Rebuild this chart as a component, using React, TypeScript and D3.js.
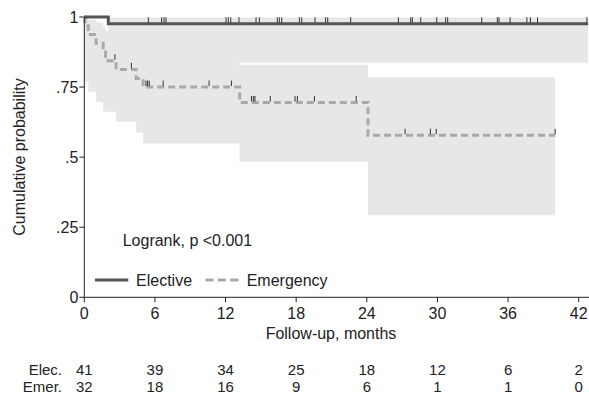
import React, { useEffect, useRef } from 'react';
import * as d3 from 'd3';

// axis ticks and risk table
const months = [0, 6, 12, 18, 24, 30, 36, 42];
const yTicks = [0, 0.25, 0.5, 0.75, 1];
const yTickLabels = ['0', '.25', '.5', '.75', '1'];
const elecRisk = [41, 39, 34, 25, 18, 12, 6, 2];
const emerRisk = [32, 18, 16, 9, 6, 1, 1, 0];

// Elective KM curve
const elecTime = [0, 2.04, 42.8];
const elecSurv = [1, 0.976, 0.976];
const elecLo = [1, 0.837, 0.837];
const elecHi = [1, 0.998, 0.998];
const elecCensor = [5.44, 6.57, 6.77, 6.94, 12.04, 12.23, 12.44, 13.14, 14.59, 14.87, 16.4, 16.57, 16.77,
  18.27, 18.47, 19.6, 20.5, 20.68, 22.63, 26.68, 27.73, 27.87, 28.58, 29.94, 30.7, 30.87, 33.76,
  35.09, 35.23, 36.17, 37.6, 37.9, 38.5, 42.7];

// Emergency KM curve
const emerTime = [0, 0.06, 0.34, 1.0, 1.6, 1.8, 2.7, 4.4, 5.0, 13.2, 24.1, 40];
const emerSurv = [1, 0.969, 0.938, 0.906, 0.875, 0.844, 0.813, 0.781, 0.75, 0.695, 0.578, 0.578];
const emerLo = [1, 0.769, 0.733, 0.697, 0.662, 0.662, 0.626, 0.588, 0.549, 0.483, 0.293, 0.293];
const emerHi = [1, 0.996, 0.99, 0.98, 0.965, 0.95, 0.93, 0.91, 0.885, 0.83, 0.785, 0.785];
const emerCensor = [2.6, 4.0, 5.24, 5.38, 5.52, 6.7, 10.6, 12.5, 14.2, 14.36, 14.5, 15.8, 17.9, 18.1,
  19.55, 23.1, 27.25, 29.4, 29.9, 40];

const FONT = 'Liberation Sans, Arial, sans-serif';

const App: React.FC = () => {
  const svgRef = useRef<SVGSVGElement | null>(null);

  useEffect(() => {
    if (!svgRef.current) return;
    const svg = d3.select(svgRef.current);
    svg.selectAll('*').remove();

    const x = d3.scaleLinear().domain([0, 42]).range([84.3, 578.7]);
    const y = d3.scaleLinear().domain([0, 1]).range([297.3, 17]);

    const band = '#e7e7e9';

    const area = d3.area<number>()
      .curve(d3.curveStepAfter);

    // confidence bands
    const drawBand = (t: number[], lo: number[], hi: number[]) => {
      svg.append('path')
        .attr('d', area
          .x((_, i) => x(t[i]))
          .y0((_, i) => y(lo[i]))
          .y1((_, i) => y(hi[i]))(t.map((_, i) => i)) || '')
        .attr('fill', band);
    };
    drawBand(emerTime, emerLo, emerHi);
    drawBand(elecTime.slice(1), elecLo.slice(1), elecHi.slice(1));

    const line = d3.line<number>().curve(d3.curveStepAfter);

    svg.append('path')
      .attr('d', line.x((_, i) => x(emerTime[i])).y((_, i) => y(emerSurv[i]))(emerTime.map((_, i) => i)) || '')
      .attr('fill', 'none')
      .attr('stroke', '#a9a9a9')
      .attr('stroke-width', 3)
      .attr('stroke-dasharray', '7,4');

    svg.append('path')
      .attr('d', line.x((_, i) => x(elecTime[i])).y((_, i) => y(elecSurv[i]))(elecTime.map((_, i) => i)) || '')
      .attr('fill', 'none')
      .attr('stroke', '#555')
      .attr('stroke-width', 3);

    // censor marks
    const drawCensor = (c: number[], t: number[], s: number[]) => {
      svg.append('g').selectAll('line')
        .data(c)
        .enter()
        .append('line')
        .attr('x1', d => x(d))
        .attr('x2', d => x(d))
        .attr('y1', d => y(s[Math.max(0, d3.bisectRight(t, d) - 1)]) - 1)
        .attr('y2', d => y(s[Math.max(0, d3.bisectRight(t, d) - 1)]) - 6.5)
        .attr('stroke', '#333')
        .attr('stroke-width', 1);
    };
    drawCensor(elecCensor, elecTime, elecSurv);
    drawCensor(emerCensor, emerTime, emerSurv);

    // axes
    const axisCol = '#222';
    svg.append('line')
      .attr('x1', x(0)).attr('x2', x(0)).attr('y1', y(1)).attr('y2', y(0))
      .attr('stroke', axisCol);
    svg.append('line')
      .attr('x1', x(0)).attr('x2', 589).attr('y1', y(0)).attr('y2', y(0))
      .attr('stroke', axisCol);

    const yg = svg.append('g');
    yTicks.forEach((v, i) => {
      yg.append('line').attr('x1', x(0) - 5).attr('x2', x(0)).attr('y1', y(v)).attr('y2', y(v))
        .attr('stroke', axisCol);
      yg.append('text').attr('x', x(0) - 6).attr('y', y(v)).attr('dy', '0.35em')
        .attr('text-anchor', 'end').text(yTickLabels[i]);
    });

    const xg = svg.append('g');
    months.forEach((m) => {
      xg.append('line').attr('x1', x(m)).attr('x2', x(m)).attr('y1', y(0)).attr('y2', y(0) + 5)
        .attr('stroke', axisCol);
      xg.append('text').attr('x', x(m)).attr('y', 319).attr('text-anchor', 'middle').text(m);
    });

    svg.append('text').attr('x', 331).attr('y', 339).attr('text-anchor', 'middle')
      .text('Follow-up, months');
    svg.append('text')
      .attr('transform', 'translate(25,157) rotate(-90)')
      .attr('text-anchor', 'middle')
      .text('Cumulative probability');

    // risk table
    const rt = svg.append('g').attr('font-size', 15);
    rt.append('text').attr('x', 62).attr('y', 375).attr('text-anchor', 'end').text('Elec.');
    rt.append('text').attr('x', 62).attr('y', 392).attr('text-anchor', 'end').text('Emer.');
    months.forEach((m, i) => {
      rt.append('text').attr('x', x(m)).attr('y', 375).attr('text-anchor', 'middle').text(elecRisk[i]);
      rt.append('text').attr('x', x(m)).attr('y', 392).attr('text-anchor', 'middle').text(emerRisk[i]);
    });

    // annotation + legend
    svg.append('text').attr('x', 122.7).attr('y', 246).text('Logrank, p <0.001');
    svg.append('line').attr('x1', 95).attr('x2', 128.3).attr('y1', 280).attr('y2', 280)
      .attr('stroke', '#555').attr('stroke-width', 3);
    svg.append('text').attr('x', 136).attr('y', 286).text('Elective');
    svg.append('line').attr('x1', 205.7).attr('x2', 238.3).attr('y1', 280).attr('y2', 280)
      .attr('stroke', '#a9a9a9').attr('stroke-width', 3).attr('stroke-dasharray', '8,4.3');
    svg.append('text').attr('x', 246.7).attr('y', 286).text('Emergency');
  }, []);

  return (
    <svg ref={svgRef} width={589} height={397} fontFamily={FONT} fontSize={16} fill="#222"
      style={{ position: 'absolute', left: 0, top: 0, background: '#fff' }} />
  );
};

export default App;
